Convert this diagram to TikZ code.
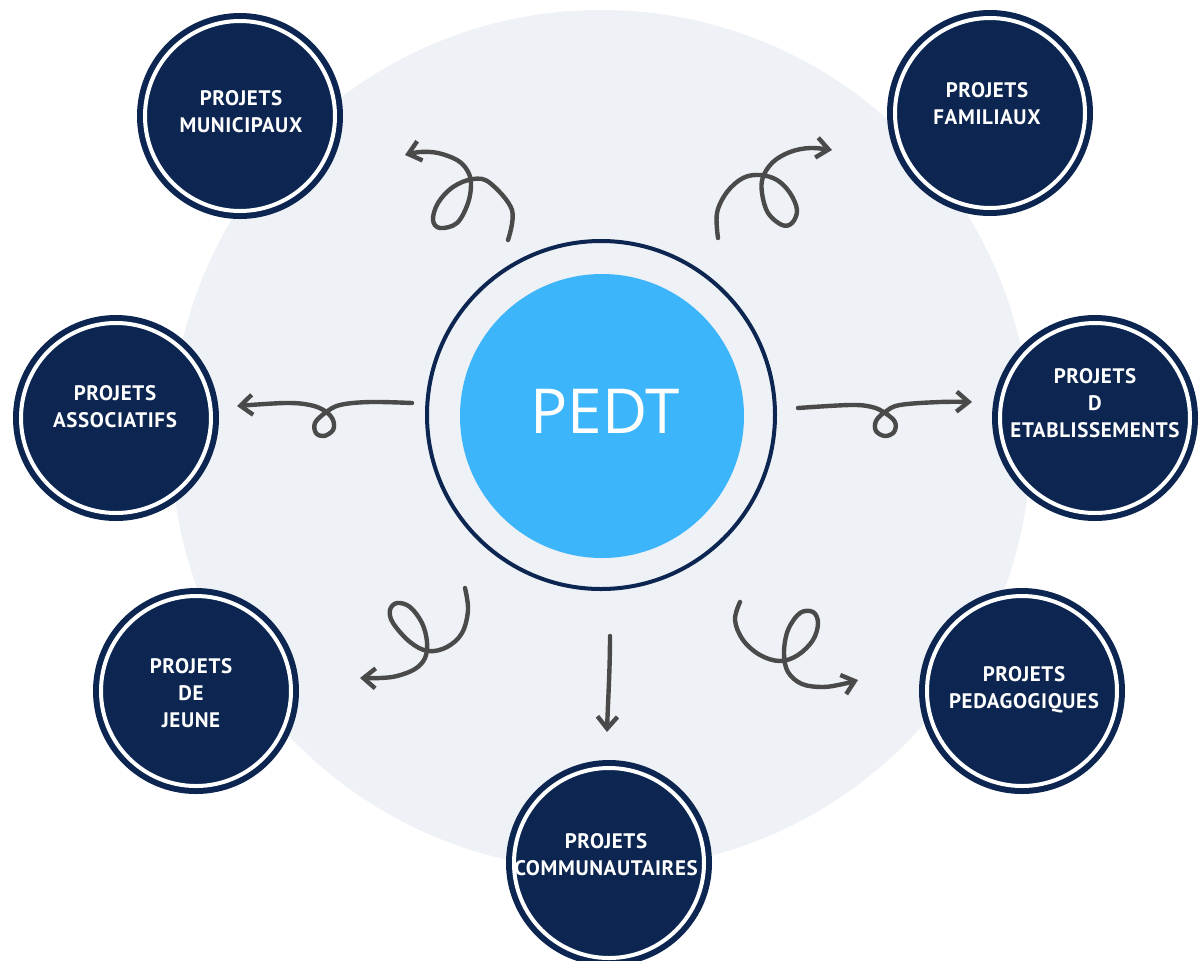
\documentclass[tikz,border=0pt]{standalone}
\usepackage{fontspec}
\newfontfamily\labfont{PT Sans}[LetterSpace=3]
\newfontfamily\pedtfont{Open Sans}
\usetikzlibrary{arrows.meta}
\definecolor{navy}{HTML}{0C2651}
\definecolor{bggray}{HTML}{EEF1F5}
\definecolor{pedtblue}{HTML}{3DB5FA}
\definecolor{arrgray}{HTML}{4A4A4A}
\begin{document}
\begin{tikzpicture}[x=0.5pt,y=-0.5pt,
  sat/.style={circle,fill=navy,minimum size=103pt,inner sep=0pt,
    path picture={\draw[white,line width=2pt] (path picture bounding box.center) circle[radius=47.5pt];}},
  lab/.style={text=white,font=\labfont\bfseries\fontsize{10.5}{13.5}\selectfont,align=center,inner sep=0pt},
  swirl/.style={draw=arrgray,line width=2.2pt,line cap=round,line join=round,
    -{Straight Barb[length=6pt,width=10pt]}}]
\useasboundingbox (0,0) rectangle (1200,960);
\fill[white] (0,0) rectangle (1200,960);
\fill[bggray] (601,440) circle[radius=215pt];

% centre
\node[circle,draw=navy,line width=2pt,minimum size=174pt,inner sep=0pt] (ring) at (601,415) {};
\node[circle,fill=pedtblue,minimum size=142pt,inner sep=0pt] (pedt) at (602,416) {};
\node[text=white,font=\pedtfont\fontsize{31}{36}\selectfont,inner sep=0pt] (pedtlab) at (605,411) {PEDT};

% satellites
\node[sat] (mun) at (240,116) {};
\node[lab] (munl) at (241,112) {PROJETS\\MUNICIPAUX};
\node[sat] (fam) at (990,113) {};
\node[lab] (faml) at (987,104) {PROJETS\\FAMILIAUX};
\node[sat] (ass) at (116,418) {};
\node[lab] (assl) at (115,407) {PROJETS\\ASSOCIATIFS};
\node[sat] (eta) at (1095,418) {};
\node[lab] (etal) at (1095,403) {PROJETS\\D\\ETABLISSEMENTS};
\node[sat] (jeu) at (196,691) {};
\node[lab] (jeul) at (191,693) {PROJETS\\DE\\JEUNE};
\node[sat] (ped) at (1022,691) {};
\node[lab] (pedl) at (1024,690) {PROJETS\\PEDAGOGIQUES};
\node[sat] (com) at (609,863) {};
\node[lab] (coml) at (606,855) {PROJETS\\COMMUNAUTAIRES};

% swirly arrows
\draw[swirl] plot[smooth,tension=0.6] coordinates {(508,240) (512,210) (490,183) (473,179) (453,187) (438,203) (433,220) (440,228) (457,223) (468,203) (471,183) (467,170) (457,160) (438,153) (420,152) (405,155)};
\draw[swirl] plot[smooth,tension=0.6] coordinates {(718,238) (717,213) (727,192) (743,178) (760,175) (777,180) (790,193) (797,210) (792,223) (782,225) (768,213) (762,193) (763,177) (773,162) (790,152) (810,148) (832,150)};
\draw[swirl] plot[smooth,tension=0.6] coordinates {(412,403) (370,402) (340,405) (325,413) (315,423) (316,433) (324,436) (333,430) (333,420) (325,411) (310,405) (285,403) (237,406)};
\draw[swirl] plot[smooth,tension=0.6] coordinates {(798,408) (850,405) (872,407) (885,413) (895,422) (894,432) (885,436) (876,431) (876,421) (885,412) (900,405) (940,402) (972,402)};
\draw[swirl] plot[smooth,tension=0.6] coordinates {(465,588) (468,610) (462,633) (447,647) (428,651) (410,642) (393,623) (390,610) (397,603) (410,607) (422,623) (427,642) (425,658) (415,669) (397,676) (380,678) (360,678)};
\draw[swirl] plot[smooth,tension=0.6] coordinates {(740,602) (735,620) (743,640) (760,655) (780,661) (798,655) (813,640) (818,623) (813,612) (800,613) (788,630) (784,653) (788,672) (802,684) (823,687) (843,684) (858,680)};
\coordinate (dstart) at (610,636);
\coordinate (dend) at (607,732);
\draw[swirl] (dstart) .. controls (610,670) and (608,700) .. (dend);
\end{tikzpicture}
\end{document}
